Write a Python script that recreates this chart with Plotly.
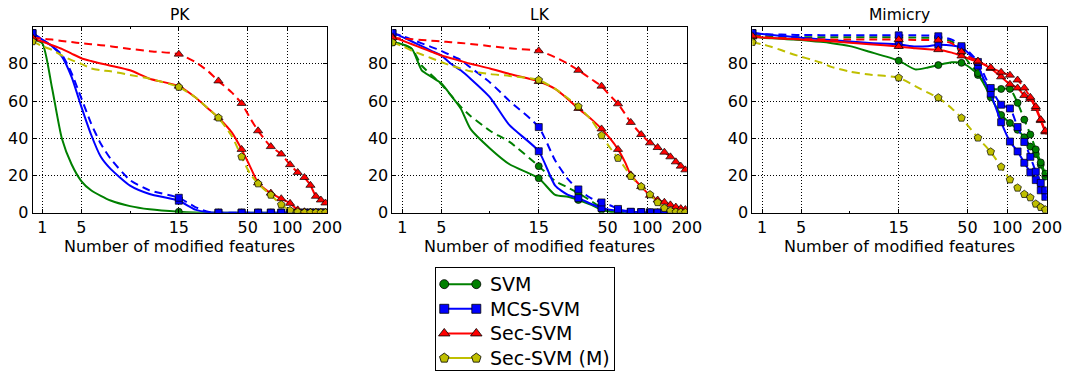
import numpy as np
import plotly.graph_objects as go

W, H = 1082, 386

# number of modified features at which the detection rate was sampled
FEATS = [0, 1, 2, 3, 4, 5, 6, 7, 8, 10, 12, 15, 20, 25, 30, 38, 45, 52, 60, 68,
         75, 90, 105, 120, 135, 150, 165, 180, 195, 200]

X_TICKS = [1, 5, 15, 50, 100, 200]
X_MINOR = [10]
Y_TICKS = [0, 20, 40, 60, 80]

# ---- PK (perfect knowledge) detection rates, % ----
pk_svm = [93, 91, 67, 40, 26, 17, 12, 9, 6.5, 3.5, 1.8, 0.5, 0.1, 0, 0, 0, 0, 0, 0, 0,
          0, 0, 0, 0, 0, 0, 0, 0, 0, 0]
pk_mcs = [96.5, 93, 89.5, 84, 73, 57, 42, 30, 23.5, 14.5, 10, 6.4, 1.6, 0.2, 0, 0, 0, 0, 0, 0,
          0, 0, 0, 0, 0, 0, 0, 0, 0, 0]
pk_mcs_2 = [96.5, 93, 89.5, 85, 75, 61.5, 48, 37, 29, 17.5, 12, 8, 3, 0.5, 0, 0, 0, 0, 0, 0,
            0, 0, 0, 0, 0, 0, 0, 0, 0, 0]
pk_sec = [93.5, 92, 90, 88, 85.5, 83, 81.5, 80.2, 79, 76.5, 72, 68, 62, 56, 51, 43, 34, 25, 16, 12.5,
          10.5, 7.5, 5, 1.5, 0.5, 0.3, 0.2, 0.1, 0, 0]
pk_sec_2 = [94, 93.5, 93, 92.3, 91.7, 91, 90.5, 90, 89.5, 88, 86.8, 85.2, 81, 76, 70.8, 64.5, 58.7, 51, 44, 39,
            35.5, 31.5, 25.8, 21.6, 18.9, 14.7, 8.8, 6.8, 5.2, 5]
pk_secm_2 = [92, 89.5, 87.5, 84.5, 82, 80, 77.5, 76.5, 76, 74, 72, 67.5, 62, 56, 51, 41, 30, 21, 15.6, 12,
             9.5, 4.3, 1.2, 0.3, 0, 0, 0, 0, 0, 0]

# ---- LK (limited knowledge) detection rates, % ----
lk_svm = [91.5, 90.5, 88, 76.5, 73, 69.5, 63, 56, 45, 34.5, 26, 18.5, 9.5, 8.5, 6.8, 4, 1.5, 0.5, 0.3, 0.1,
          0, 0, 0, 0, 0, 0, 0, 0, 0, 0]
lk_svm_2 = [91.5, 90.5, 88, 79, 74, 69, 63, 57, 52, 44, 38, 25, 17, 13.5, 10.5, 6, 2.5, 0.8, 0.3, 0,
            0, 0, 0, 0, 0, 0, 0, 0, 0, 0]
lk_mcs = [96.5, 94.5, 92, 89.5, 87, 84.5, 80, 76.5, 72, 62, 47, 33, 14.5, 9.5, 7.8, 4.5, 2.5, 1.5, 1, 0.5,
          0.3, 0.2, 0, 0, 0, 0, 0, 0, 0, 0]
lk_mcs_2 = [96.5, 95, 93, 91, 89, 87, 84.5, 82, 78, 70, 60, 46, 28, 18, 12.5, 7.5, 5.5, 4, 2, 1,
            0.5, 0.3, 0.2, 0.1, 0, 0, 0, 0, 0, 0]
lk_sec = [94.5, 92.5, 90.5, 88.5, 86.5, 84.5, 83, 81.5, 80, 77.5, 74.5, 70.5, 66.5, 61, 56, 50, 45, 40, 34, 27,
          20.3, 14, 9.3, 6.8, 5.6, 4.2, 3, 2.2, 1.7, 1.6]
lk_sec_2 = [94, 93.6, 93.2, 92.8, 92.4, 92, 91.6, 91.2, 90.7, 89.5, 88.3, 87, 83.5, 80, 76.5, 71.5, 68, 63, 58.5, 53,
            48.5, 42, 37.5, 35, 32.5, 30, 27.3, 25, 23, 22.5]
lk_secm_2 = [91.5, 89.5, 87, 85, 83, 81, 79, 77.5, 76, 74.5, 73.5, 71.3, 66.5, 61.5, 57, 49.5, 41.5, 35, 29.3, 24,
             19.6, 14, 9.7, 5.5, 2.4, 0.9, 0.3, 0.2, 0.1, 0]

# ---- Mimicry detection rates, % ----
mim_svm = [94.5, 94, 93.7, 93.4, 93.1, 92.8, 92.3, 91.8, 91.2, 89.5, 86.5, 81.7, 77, 78, 79.3, 80.8, 80.5, 78, 74, 68,
           62, 52.5, 48.2, 44.5, 40.5, 35.5, 31.5, 25.8, 19.4, 18.5]
mim_svm_2 = [95.5, 95, 94.7, 94.5, 94.4, 94.3, 94.3, 94.3, 94.3, 94.3, 94.3, 94.2, 94.1, 94, 94, 92, 86, 80, 75, 70,
             66.5, 66.5, 66.5, 59, 50, 42, 34, 27, 21, 20]
mim_mcs = [96.5, 96, 95.5, 95, 94.5, 94, 93.6, 93.2, 92.8, 92, 91.2, 90.4, 89.3, 89.5, 90.2, 89.8, 88.7, 85, 79, 70,
           64, 48.6, 38.2, 32.9, 26.8, 21.6, 17.5, 12, 8.5, 8]
mim_mcs_2 = [96.5, 96, 95.8, 95.7, 95.6, 95.5, 95.5, 95.4, 95.4, 95.3, 95.3, 95.3, 95.3, 95.2, 94.8, 93, 89.5, 86, 81, 73,
             67, 58, 56, 46, 38, 30, 22, 16, 12, 11]
mim_sec = [94.5, 94.2, 93.9, 93.6, 93.3, 93, 92.7, 92.4, 92.1, 91.3, 90.5, 89.3, 88.3, 87.8, 87.6, 86, 84.2, 82.5, 81, 79.3,
           77.5, 73, 69, 67, 63, 61, 56, 49.5, 43.4, 42]
mim_sec_2 = [95, 94.5, 94, 93.7, 93.5, 93.3, 93.2, 93.1, 93, 93, 93, 93, 92.8, 92.8, 92.7, 91, 86.5, 83.5, 81.5, 79.5,
             78, 75.5, 73.9, 71.3, 67, 62, 57, 50, 44, 43]
mim_secm_2 = [91.6, 90.5, 89, 87.3, 85.4, 83.8, 82.3, 80.7, 78.5, 75.8, 74.2, 72.5, 68, 64.5, 61.8, 56, 50.9, 45.5, 40.2, 36,
              32.7, 24.6, 17.7, 13.3, 9.9, 8.1, 4.7, 2.9, 1.6, 1.3]

SERIES = ["SVM", "MCS-SVM", "Sec-SVM", "Sec-SVM (M)"]
COLORS = {"SVM": "#008000", "MCS-SVM": "#0000ff", "Sec-SVM": "#ff0000", "Sec-SVM (M)": "#bfbf00"}
SYMBOLS = {"SVM": "circle", "MCS-SVM": "square", "Sec-SVM": "triangle-up", "Sec-SVM (M)": "pentagon"}
SIZES = {"SVM": 7, "MCS-SVM": 7, "Sec-SVM": 8, "Sec-SVM (M)": 8}

# (series, dashed?, values) per panel, in drawing order
PANELS = [
    ("PK", [("SVM", False, pk_svm), ("MCS-SVM", False, pk_mcs), ("MCS-SVM", True, pk_mcs_2),
            ("Sec-SVM", False, pk_sec), ("Sec-SVM", True, pk_sec_2), ("Sec-SVM (M)", True, pk_secm_2)]),
    ("LK", [("SVM", False, lk_svm), ("SVM", True, lk_svm_2), ("MCS-SVM", False, lk_mcs), ("MCS-SVM", True, lk_mcs_2),
            ("Sec-SVM", False, lk_sec), ("Sec-SVM", True, lk_sec_2), ("Sec-SVM (M)", True, lk_secm_2)]),
    ("Mimicry", [("SVM", False, mim_svm), ("SVM", True, mim_svm_2), ("MCS-SVM", False, mim_mcs),
                 ("MCS-SVM", True, mim_mcs_2), ("Sec-SVM", False, mim_sec), ("Sec-SVM", True, mim_sec_2),
                 ("Sec-SVM (M)", True, mim_secm_2)]),
]

MARK_EVERY = 15


def symlog(v, linthresh=15.0, base=10.0):
    """Symmetric-log transform: linear up to linthresh, logarithmic beyond."""
    v = np.asarray(v, dtype=float)
    c = 1.0 / (1.0 - 1.0 / base)
    hi = linthresh * (c + np.log10(np.maximum(v, linthresh) / linthresh))
    return np.where(v <= linthresh, v * c, hi)


FONT = "DejaVu Sans"
fig = go.Figure()

LEFTS = [33, 398, 763]
PW = 298.5
Y_DOM = [(H - 218.3) / H, (H - 27.3) / H]

feats = np.asarray(FEATS, dtype=float)
xs = symlog(feats)
mark_idx = [i for i, f in enumerate(FEATS) if f % MARK_EVERY == 0]

for p, (title, curves) in enumerate(PANELS):
    xa = "x" if p == 0 else f"x{p + 1}"
    ya = "y" if p == 0 else f"y{p + 1}"
    for name, dashed, vals in curves:
        col = COLORS[name]
        fig.add_trace(go.Scatter(
            x=xs, y=vals, xaxis=xa, yaxis=ya, mode="lines", showlegend=False, hoverinfo="skip",
            line=dict(color=col, width=2, dash="8px,5px" if dashed else "solid",
                      shape="spline", smoothing=0.6),
        ))
        fig.add_trace(go.Scatter(
            x=[xs[i] for i in mark_idx], y=[vals[i] for i in mark_idx], xaxis=xa, yaxis=ya,
            mode="markers", showlegend=False, hoverinfo="skip",
            marker=dict(symbol=SYMBOLS[name], size=SIZES[name], color=col,
                        line=dict(color="black", width=0.7)),
        ))

    x0 = LEFTS[p] / W
    x1 = (LEFTS[p] + PW) / W
    axis_common = dict(
        showline=True, linecolor="black", linewidth=1, mirror="allticks",
        ticks="inside", ticklen=4, tickwidth=1, tickcolor="black",
        showgrid=True, gridcolor="black", gridwidth=0.8, griddash="1px,2px",
        zeroline=False, tickfont=dict(family=FONT, size=16, color="black"),
    )
    fig.update_layout({
        ("xaxis" if p == 0 else f"xaxis{p + 1}"): dict(
            axis_common, domain=[x0, x1], anchor=ya,
            range=[0, float(symlog(200))],
            tickmode="array", tickvals=symlog(X_TICKS).tolist(),
            ticktext=[str(t) for t in X_TICKS], ticklabelstandoff=0,
            minor=dict(tickvals=symlog(X_MINOR).tolist(), ticks="inside", ticklen=2,
                       tickcolor="black", showgrid=False),
        ),
        ("yaxis" if p == 0 else f"yaxis{p + 1}"): dict(
            axis_common, domain=Y_DOM, anchor=xa, range=[0, 100],
            tickmode="array", tickvals=Y_TICKS, ticktext=[str(t) for t in Y_TICKS],
        ),
    })
    cx = (x0 + x1) / 2
    fig.add_annotation(x=cx, y=(H - 15.5) / H, xref="paper", yref="paper", text=title,
                       showarrow=False, xanchor="center", yanchor="middle",
                       font=dict(family=FONT, size=15.5, color="black"))
    fig.add_annotation(x=cx, y=(H - 253) / H, xref="paper", yref="paper",
                       text="Number of modified features", showarrow=False,
                       xanchor="center", yanchor="middle",
                       font=dict(family=FONT, size=16, color="black"))

# ---- legend: a framed box of its own, one "o--o" key per series ----
LEG_BOX = (442, 623, 275, 380)     # left, right, top, bottom (px)
ROW_H = 25.3                       # px between legend rows
FIRST_ROW = 16.7                   # px from box top to the first row centre
lw = LEG_BOX[1] - LEG_BOX[0]
lh = LEG_BOX[3] - LEG_BOX[2]
y_top = -FIRST_ROW / ROW_H
y_bot = y_top + lh / ROW_H
KEY_X = [(450.5 - LEG_BOX[0]) / lw, (483 - LEG_BOX[0]) / lw]
TEXT_X = (495 - LEG_BOX[0]) / lw

fig.update_layout(
    xaxis4=dict(domain=[LEG_BOX[0] / W, LEG_BOX[1] / W], anchor="y4", range=[0, 1],
                showline=True, mirror=True, linecolor="black", linewidth=1,
                showgrid=False, zeroline=False, showticklabels=False, ticks="", fixedrange=True),
    yaxis4=dict(domain=[(H - LEG_BOX[3]) / H, (H - LEG_BOX[2]) / H], anchor="x4",
                range=[y_bot, y_top],
                showline=True, mirror=True, linecolor="black", linewidth=1,
                showgrid=False, zeroline=False, showticklabels=False, ticks="", fixedrange=True),
)
for row, name in enumerate(SERIES):
    fig.add_trace(go.Scatter(
        x=KEY_X, y=[row, row], xaxis="x4", yaxis="y4", mode="lines+markers",
        name=name, showlegend=False, hoverinfo="skip", cliponaxis=False,
        line=dict(color=COLORS[name], width=2),
        marker=dict(symbol=SYMBOLS[name], size=SIZES[name] + 2, color=COLORS[name],
                    line=dict(color="black", width=0.8)),
    ))
    fig.add_annotation(x=TEXT_X, y=row, xref="x4", yref="y4", text=name, showarrow=False,
                       xanchor="left", yanchor="middle",
                       font=dict(family=FONT, size=19, color="black"))

fig.update_layout(
    width=W, height=H, autosize=False,
    margin=dict(l=0, r=0, t=0, b=0),
    paper_bgcolor="white", plot_bgcolor="white",
    font=dict(family=FONT, color="black"),
    showlegend=False,
)

fig.write_html("out.html")
